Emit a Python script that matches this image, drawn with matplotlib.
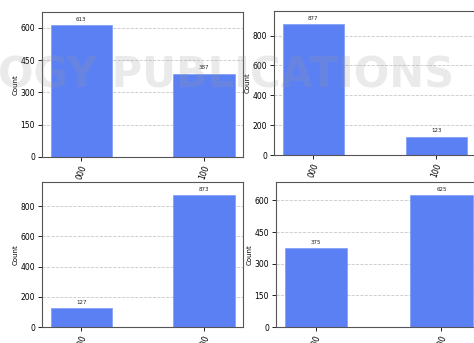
import numpy as np
import matplotlib
matplotlib.use("Agg")
import matplotlib.pyplot as plt

# Risultati delle misure (conteggi su 1000 shot)
states = ['000', '100']
counts_a = [613, 387]
counts_b = [877, 123]
counts_c = [127, 873]
counts_d = [375, 625]
ticks_150 = [0, 150, 300, 450, 600]
ticks_200 = [0, 200, 400, 600, 800]

bar_color = '#5b80f4'

fig = plt.figure(figsize=(4.74, 3.43), dpi=100)

# posizioni dei quattro pannelli (come nel ritaglio originale)
boxes = [
    [0.0886, 0.5423, 0.4245, 0.4227],
    [0.578, 0.548, 0.426, 0.420],
    [0.0886, 0.0466, 0.4245, 0.4227],
    [0.582, 0.0466, 0.434, 0.4227],
]
data = [counts_a, counts_b, counts_c, counts_d]
yticks = [ticks_150, ticks_200, ticks_200, ticks_150]

for box, vals, yt in zip(boxes, data, yticks):
    ax = fig.add_axes(box)
    x = np.arange(len(states))
    bars = ax.bar(x, vals, width=0.5, color=bar_color, edgecolor='#7d9bf7',
                  linewidth=0.5, zorder=2)
    for b, v in zip(bars, vals):
        ax.text(b.get_x() + b.get_width() / 2, v + max(vals) * 0.025, str(v),
                ha='center', va='bottom', fontsize=4, color='#222222')
    ax.set_xlim(-0.32, 1.32)
    ax.set_ylim(0, max(vals) * 1.1)
    ax.set_xticks(x)
    ax.set_xticklabels(states, rotation=70, fontsize=5.5)
    ax.set_yticks(yt)
    ax.tick_params(axis='y', labelsize=5.5, length=3, width=0.6, pad=2)
    ax.tick_params(axis='x', length=3, width=0.6, pad=2)
    ax.set_ylabel('Count', fontsize=5, labelpad=1.5)
    ax.yaxis.grid(True, linestyle='--', color='#c8c8c8', linewidth=0.6, zorder=0)
    ax.set_axisbelow(True)
    for s in ax.spines.values():
        s.set_color('#555555')
        s.set_linewidth(0.8)

# filigrana dell'editore, semitrasparente sopra ai grafici
fig.text(-0.005, 0.78, 'OGY PUBLICATIONS', fontsize=30, fontweight='bold',
         color='#999999', alpha=0.2, ha='left', va='center', zorder=10)

plt.savefig('out.png', dpi=100)
